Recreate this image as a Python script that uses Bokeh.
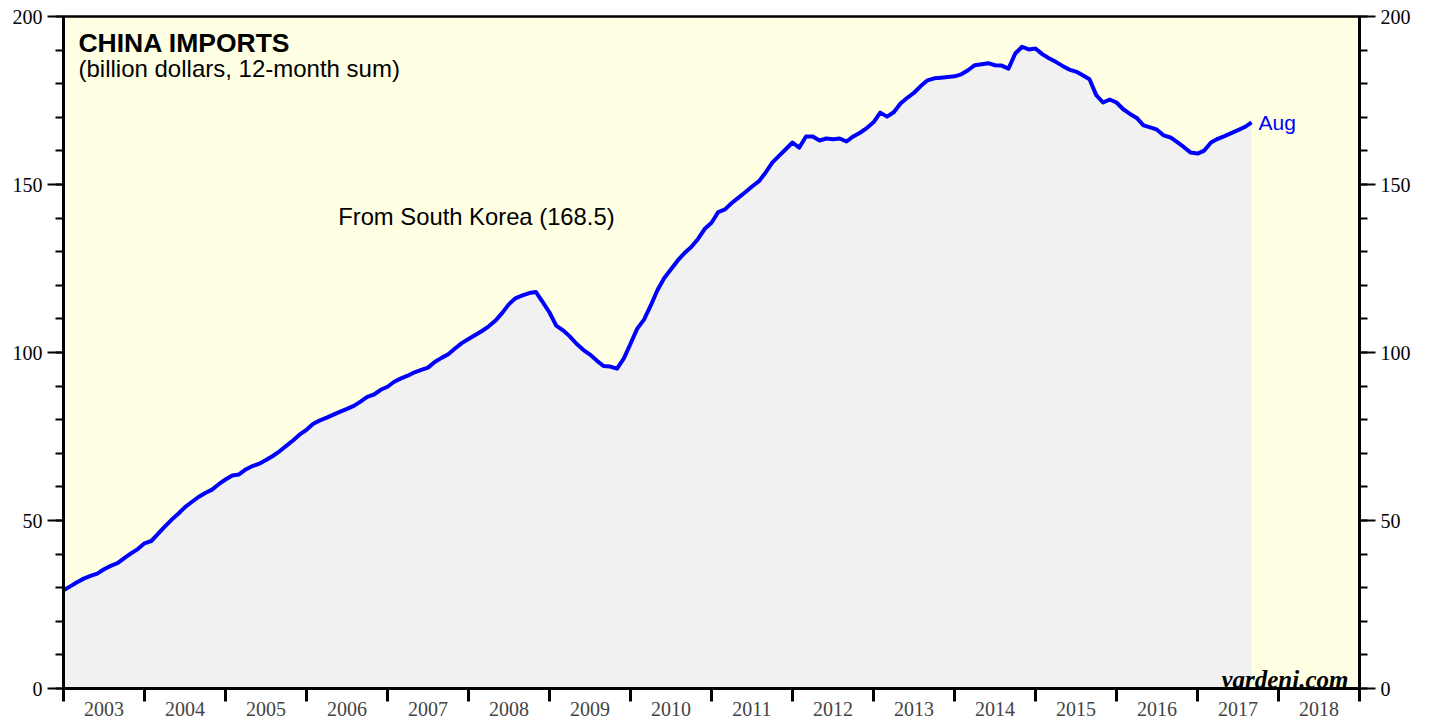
from bokeh.plotting import figure
from bokeh.models import Range1d, LinearAxis, FixedTicker, Label
from bokeh.embed import file_html
from bokeh.resources import INLINE

# ---- data ----
start_year = 2003  # first point = Dec 2002 month-end (x = 2003.0)
values = [
    29.2, 30.4, 31.6, 32.7, 33.5, 34.2, 35.5, 36.5, 37.3, 38.8, 40.2, 41.5,
    43.2, 43.9, 46.0, 48.2, 50.2, 52.0, 54.0, 55.5, 57.0, 58.2, 59.2, 60.8,
    62.2, 63.4, 63.7, 65.2, 66.2, 66.9, 68.0, 69.2, 70.6, 72.2, 73.8, 75.6,
    77.0, 78.8, 79.8, 80.6, 81.5, 82.4, 83.2, 84.1, 85.4, 86.8, 87.5, 88.9,
    89.8, 91.3, 92.3, 93.1, 94.1, 94.8, 95.5, 97.2, 98.4, 99.5, 101.2, 102.8,
    104.0, 105.2, 106.4, 107.8, 109.5, 111.8, 114.4, 116.2, 117.0, 117.7, 118.0, 115.0,
    111.9, 108.0, 106.6, 104.8, 102.6, 100.8, 99.4, 97.6, 96.0, 95.8, 95.2, 98.2,
    102.6, 107.1, 109.8, 114.0, 118.6, 122.2, 124.8, 127.4, 129.6, 131.4, 133.8, 136.8,
    138.6, 141.8, 142.6, 144.5, 146.1, 147.7, 149.4, 150.9, 153.5, 156.5, 158.5, 160.5,
    162.5, 161.0, 164.3, 164.3, 163.1, 163.7, 163.5, 163.7, 162.8, 164.3, 165.4, 166.8,
    168.5, 171.4, 170.2, 171.5, 174.1, 175.8, 177.3, 179.3, 181.0, 181.6, 181.8, 182.0,
    182.2, 182.8, 184.0, 185.5, 185.8, 186.1, 185.5, 185.4, 184.5, 189.0, 191.0, 190.2,
    190.5, 188.8, 187.6, 186.5, 185.3, 184.2, 183.6, 182.5, 181.3, 176.6, 174.4, 175.3,
    174.4, 172.4, 171.0, 169.8, 167.6, 167.0, 166.3, 164.6, 164.0, 162.6, 161.1, 159.5,
    159.2, 160.1, 162.5, 163.6, 164.4, 165.3, 166.2, 167.1, 168.5,
]
year_ticks = list(range(2003, 2020))
year_labels = [str(y) for y in range(2003, 2019)]
y_major = [0, 50, 100, 150, 200]
y_minor = list(range(0, 201, 10))
title = "CHINA IMPORTS"
subtitle = "(billion dollars, 12-month sum)"
series_name = "From South Korea"
last_month = "Aug"
source = "yardeni.com"

x = [start_year + k / 12 for k in range(len(values))]

p = figure(width=1421, height=719,
           x_range=Range1d(2003, 2019), y_range=Range1d(0, 200),
           x_axis_location=None, y_axis_location=None,
           toolbar_location=None, output_backend="svg",
           min_border_left=63, min_border_right=62, min_border_top=16, min_border_bottom=31)
p.background_fill_color = "#ffffe4"
p.border_fill_color = "white"
p.outline_line_color = "black"
p.outline_line_width = 2.5
p.xgrid.visible = False
p.ygrid.visible = False

p.varea(x=x, y1=0, y2=values, fill_color="#f1f1f1")
p.line(x, values, line_color="#0000ff", line_width=4, line_join="round")

def yaxis():
    return LinearAxis(
        ticker=FixedTicker(ticks=y_major, minor_ticks=y_minor),
        axis_line_width=3, axis_line_color="black",
        major_tick_line_width=2, major_tick_out=16, major_tick_in=0,
        minor_tick_line_width=2, minor_tick_out=8, minor_tick_in=0,
        major_label_standoff=5,
        major_label_text_font="Liberation Serif",
        major_label_text_font_size="20px",
        major_label_text_color="black",
    )

p.add_layout(yaxis(), "left")
p.add_layout(yaxis(), "right")

ax1 = LinearAxis(
    ticker=FixedTicker(ticks=year_ticks, minor_ticks=[]),
    axis_line_width=3, axis_line_color="black",
    major_tick_line_width=3, major_tick_out=13, major_tick_in=0,
    minor_tick_out=0, minor_tick_in=0,
    major_label_overrides={t: "" for t in year_ticks},
    major_label_text_font_size="1px",
    major_label_standoff=0,
)
mid = [y + 0.5 for y in range(2003, 2019)]
ax2 = LinearAxis(
    ticker=FixedTicker(ticks=mid, minor_ticks=[]),
    axis_line_color=None, major_tick_line_color=None,
    major_tick_out=0, major_tick_in=0, minor_tick_out=0, minor_tick_in=0,
    major_label_overrides={m: lab for m, lab in zip(mid, year_labels)},
    major_label_text_font="Liberation Serif",
    major_label_text_font_size="20px",
    major_label_standoff=0,
)
p.add_layout(ax1, "below")
p.add_layout(ax2, "below")

p.add_layout(Label(x=2003.185, y=192.0, text=title, text_font="Liberation Sans",
                   text_font_style="bold", text_font_size="26.5px", text_color="black",
                   text_baseline="alphabetic"))
p.add_layout(Label(x=2003.185, y=184.5, text=subtitle, text_font="Liberation Sans",
                   text_font_size="24px", text_color="black", text_baseline="alphabetic"))
p.add_layout(Label(x=2006.391, y=140.5, text=f"{series_name} ({values[-1]})",
                   text_font="Liberation Sans", text_font_size="23.8px", text_color="black",
                   text_baseline="alphabetic"))
p.add_layout(Label(x=x[-1], y=values[-1], text=last_month, x_offset=7,
                   text_font="Liberation Sans", text_font_size="21px", text_color="#0000ff",
                   text_baseline="middle"))
p.add_layout(Label(x=2018.864, y=2.6, text=source, text_font="Liberation Serif",
                   text_font_style="bold italic", text_font_size="25px", text_color="black",
                   text_align="right", text_baseline="alphabetic"))

open("out.html", "w").write(file_html(p, INLINE))
